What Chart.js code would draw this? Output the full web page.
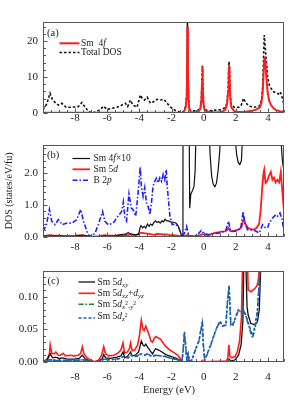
<!DOCTYPE html>
<html><head><meta charset="utf-8">
<script src="https://cdn.jsdelivr.net/npm/chart.js@4/dist/chart.umd.min.js"></script>
<style>
html,body{margin:0;padding:0;background:#fff;}
#wrap{position:relative;width:306px;height:404px;overflow:hidden;background:#fff;}
canvas{position:absolute;left:0;top:0;}
</style></head><body>
<div id="wrap">
<canvas id="ca" width="306" height="404"></canvas>
<canvas id="cb" width="306" height="404"></canvas>
<canvas id="cc" width="306" height="404"></canvas>
</div>
<script>
// ---------- data ----------
const xTicks = [-8,-6,-4,-2,0,2,4];
const yTicksA = [0,10,20];
const yTicksB = [0,1,2];
const yTicksC = [0,0.05,0.10];

// (a) Sm 4f
const sm4fA = [[-10,0.05],[-2,0.05],[-1.5,0.03],[-1.3,0.05],[-1.2,0.6],[-1.12,1.5],[-1.07,4],[-1.04,10],[-1.01,24],[-0.98,12],[-0.94,4],[-0.9,1.2],[-0.8,0.3],[-0.5,0.2],[-0.3,0.5],[-0.2,1.3],[-0.14,3.5],[-0.1,9],[-0.08,12.9],[-0.05,8],[-0.01,2.5],[0.05,0.9],[0.2,0.4],[0.7,0.15],[1.1,0.3],[1.35,0.9],[1.46,2.5],[1.52,6],[1.56,11],[1.58,12.9],[1.61,10],[1.66,4],[1.73,1.5],[1.9,0.5],[2.2,0.25],[2.6,0.35],[3.0,0.6],[3.3,1.0],[3.5,1.6],[3.6,3],[3.67,5.5],[3.73,11],[3.78,15],[3.81,15.7],[3.85,14],[3.9,10],[3.98,5.9],[4.07,3.5],[4.19,2.2],[4.35,1.3],[4.5,0.8],[4.75,0.5],[5.0,0.35]];
// (a) Total DOS
const totalDOS = [[-10,0.9],[-9.77,2.5],[-9.56,5.5],[-9.4,3.6],[-9.19,2.7],[-9.04,2.2],[-8.83,2.7],[-8.56,1.6],[-8.31,1.6],[-8.0,1.7],[-7.79,1.8],[-7.58,2.9],[-7.375,1.6],[-7.17,0.4],[-6.9,0.05],[-6.65,0.4],[-6.44,1.0],[-6.23,1.9],[-6.02,1.0],[-5.71,1.3],[-5.4,1.6],[-5.08,2.2],[-4.875,2.7],[-4.73,1.8],[-4.56,3.6],[-4.4,2.2],[-4.15,1.6],[-3.94,5.0],[-3.83,4.1],[-3.69,3.6],[-3.52,4.4],[-3.31,2.7],[-3.1,3.2],[-2.9,3.8],[-2.69,3.6],[-2.48,3.8],[-2.31,2.9],[-2.06,1.6],[-1.75,0.65],[-1.44,0.2],[-1.25,0.4],[-1.12,1.9],[-1.07,4.3],[-1.04,10.5],[-1.01,25.5],[-0.98,12.5],[-0.94,4.3],[-0.9,1.4],[-0.81,0.6],[-0.5,0.6],[-0.3,0.9],[-0.2,1.7],[-0.14,3.8],[-0.1,9.3],[-0.08,13.1],[-0.05,8.3],[-0.01,2.8],[0.05,1.2],[0.2,0.7],[0.44,0.6],[0.75,0.8],[1.06,0.9],[1.35,1.5],[1.46,3],[1.52,6.8],[1.56,12.5],[1.58,14.3],[1.61,11],[1.66,4.6],[1.73,2.3],[1.9,1.6],[2.2,1.6],[2.35,2.3],[2.48,4.1],[2.63,2.8],[2.83,1.9],[3.15,1.6],[3.46,1.9],[3.6,3.5],[3.67,7],[3.72,14],[3.77,21.7],[3.82,19],[3.88,15.6],[3.98,10.1],[4.08,7.8],[4.19,6.9],[4.35,5.9],[4.5,5.6],[4.65,5.3],[4.77,5.9],[4.9,4.1],[5.0,2.2]];

// (b) Sm 4f x10
const sm4fx10 = [[-10,0.01],[-9.5,0.02],[-9,0.02],[-8.5,0.01],[-8,0.02],[-7.5,0.04],[-7,0.0],[-6.5,0.01],[-6,0.02],[-5.5,0.03],[-5.2,0.06],[-4.9,0.08],[-4.7,0.13],[-4.5,0.08],[-4.3,0.06],[-4.05,0.08],[-3.95,0.3],[-3.9,0.35],[-3.8,0.28],[-3.7,0.33],[-3.6,0.27],[-3.5,0.4],[-3.4,0.33],[-3.3,0.4],[-3.2,0.36],[-3.1,0.45],[-3.0,0.5],[-2.9,0.45],[-2.8,0.48],[-2.7,0.43],[-2.6,0.5],[-2.5,0.47],[-2.4,0.55],[-2.3,0.5],[-2.2,0.5],[-2.0,0.46],[-1.8,0.45],[-1.7,0.42],[-1.6,0.35],[-1.5,0.22],[-1.4,0.08],[-1.33,0.02],[-1.29,0.1],[-1.27,20],[-1.0,240],[-0.92,5],[-0.87,0.9],[-0.8,1.35],[-0.7,1.45],[-0.6,1.6],[-0.53,2.1],[-0.47,3.5],[-0.42,6],[-0.08,129],[0.3,4],[0.4,2.6],[0.5,1.9],[0.6,1.65],[0.7,1.58],[0.8,1.7],[0.9,2.1],[1.0,2.7],[1.08,3.5],[1.58,129],[1.9,4],[1.98,3],[2.05,2.6],[2.15,2.35],[2.25,2.28],[2.35,2.4],[2.42,3.2],[2.5,5],[3.8,156],[4.75,4],[4.82,3],[4.9,2.4],[5.0,2.05]];
// (b) Sm 5d
const sm5dB = [[-10,0.02],[-9.6,0.05],[-9.4,0.03],[-9,0.03],[-8.5,0.02],[-8,0.03],[-7.6,0.05],[-7.3,0.02],[-7,0.0],[-6.5,0.01],[-6.2,0.05],[-6,0.03],[-5.5,0.03],[-5,0.06],[-4.7,0.05],[-4.5,0.07],[-4.2,0.05],[-4.05,0.08],[-3.9,0.13],[-3.7,0.11],[-3.5,0.1],[-3.3,0.08],[-3.1,0.06],[-2.9,0.09],[-2.7,0.08],[-2.5,0.07],[-2.3,0.07],[-2.1,0.05],[-1.9,0.05],[-1.7,0.04],[-1.5,0.02],[-1.35,0.0],[-1.2,0.01],[-1.0,0.06],[-0.9,0.03],[-0.7,0.01],[-0.5,0.02],[-0.3,0.03],[-0.1,0.08],[0.1,0.06],[0.3,0.05],[0.5,0.09],[0.7,0.12],[0.9,0.14],[1.1,0.16],[1.3,0.17],[1.45,0.2],[1.55,0.28],[1.65,0.18],[1.8,0.17],[2.0,0.2],[2.2,0.23],[2.35,0.3],[2.45,0.5],[2.5,0.58],[2.6,0.4],[2.75,0.28],[2.9,0.25],[3.1,0.22],[3.3,0.28],[3.45,0.4],[3.55,0.85],[3.65,1.6],[3.72,2.0],[3.77,2.12],[3.85,1.7],[3.95,1.76],[4.05,1.9],[4.18,2.05],[4.28,1.8],[4.38,1.87],[4.48,1.72],[4.58,1.8],[4.7,1.72],[4.8,2.05],[4.9,1.4],[5.0,0.8]];
// (b) B 2p
const b2p = [[-10,0.17],[-9.8,0.35],[-9.6,0.86],[-9.46,0.49],[-9.25,0.38],[-9.04,0.54],[-8.8,0.38],[-8.5,0.43],[-8.2,0.43],[-7.9,0.54],[-7.65,0.86],[-7.48,0.49],[-7.27,0.17],[-7.1,0.0],[-6.77,0.1],[-6.56,0.38],[-6.29,0.8],[-6.15,0.49],[-5.94,0.38],[-5.63,0.43],[-5.42,0.59],[-5.1,0.8],[-5.0,1.1],[-4.9,0.6],[-4.8,0.5],[-4.65,1.35],[-4.5,0.9],[-4.4,0.86],[-4.23,0.65],[-4.08,1.39],[-3.95,2.2],[-3.88,1.6],[-3.77,1.28],[-3.67,1.55],[-3.56,1.07],[-3.46,0.96],[-3.35,0.7],[-3.25,1.07],[-3.15,1.6],[-3.04,1.76],[-2.94,1.85],[-2.84,1.7],[-2.73,1.86],[-2.62,1.75],[-2.52,1.97],[-2.42,1.8],[-2.33,2.12],[-2.27,1.6],[-2.1,0.65],[-1.96,0.38],[-1.75,0.4],[-1.54,0.28],[-1.44,0.12],[-1.33,0.0],[-1.19,0.12],[-1.06,0.33],[-0.92,0.0],[-0.71,0.02],[-0.4,0.05],[-0.15,0.2],[0.02,0.1],[0.33,0.06],[0.65,0.1],[1.06,0.12],[1.38,0.2],[1.54,0.49],[1.69,0.17],[2.0,0.17],[2.31,0.28],[2.46,0.8],[2.56,0.43],[2.73,0.22],[3.15,0.2],[3.46,0.12],[3.67,0.38],[3.81,0.3],[3.98,0.28],[4.08,0.43],[4.29,0.59],[4.5,0.7],[4.6,0.65],[4.75,0.75],[4.88,0.55],[5.0,0.17]];

// (c) Sm 5d orbitals
const dxy = [[-10,0],[-9.75,0.002],[-9.55,0.012],[-9.4,0.006],[-9.2,0.007],[-9.0,0.005],[-8.75,0.006],[-8.5,0.004],[-8.0,0.004],[-7.75,0.005],[-7.55,0.01],[-7.4,0.005],[-7.1,0.001],[-6.8,0],[-6.5,0.001],[-6.3,0.005],[-6.22,0.011],[-6.1,0.006],[-5.8,0.005],[-5.4,0.007],[-5.15,0.009],[-5.02,0.015],[-4.92,0.006],[-4.75,0.008],[-4.55,0.015],[-4.45,0.009],[-4.25,0.01],[-4.05,0.015],[-3.88,0.032],[-3.78,0.026],[-3.7,0.024],[-3.6,0.027],[-3.48,0.022],[-3.3,0.016],[-3.18,0.012],[-3.05,0.018],[-2.98,0.02],[-2.8,0.018],[-2.6,0.015],[-2.35,0.011],[-2.0,0.008],[-1.7,0.005],[-1.45,0.002],[-1.3,0],[1.5,0],[1.57,0.004],[1.7,0.001],[1.96,0.003],[2.17,0.01],[2.33,0.026],[2.44,0.062],[2.5,0.15],[2.58,0.2],[2.64,0.14],[2.7,0.085],[2.77,0.072],[2.94,0.059],[3.19,0.057],[3.35,0.062],[3.46,0.08],[3.56,0.15],[3.62,0.3]];
const dxzyz = [[-10,0],[-9.75,0.004],[-9.6,0.012],[-9.55,0.026],[-9.45,0.013],[-9.3,0.012],[-9.2,0.015],[-9.05,0.01],[-8.9,0.01],[-8.75,0.013],[-8.6,0.009],[-8.3,0.01],[-8.1,0.009],[-7.8,0.01],[-7.65,0.013],[-7.55,0.023],[-7.45,0.012],[-7.25,0.006],[-7.0,0.002],[-6.8,0],[-6.55,0.002],[-6.35,0.01],[-6.22,0.023],[-6.1,0.012],[-5.9,0.009],[-5.6,0.01],[-5.35,0.013],[-5.15,0.018],[-5.02,0.029],[-4.92,0.013],[-4.75,0.015],[-4.62,0.02],[-4.55,0.029],[-4.45,0.017],[-4.3,0.018],[-4.12,0.025],[-4.0,0.04],[-3.88,0.064],[-3.78,0.05],[-3.7,0.048],[-3.6,0.055],[-3.48,0.047],[-3.38,0.04],[-3.28,0.032],[-3.18,0.03],[-3.08,0.036],[-2.98,0.039],[-2.85,0.037],[-2.69,0.035],[-2.55,0.03],[-2.38,0.024],[-2.1,0.018],[-1.85,0.014],[-1.6,0.01],[-1.45,0.005],[-1.35,0],[-1.05,0],[-0.95,0.004],[-0.85,0],[-0.15,0],[-0.08,0.002],[0.0,0],[1.4,0.001],[1.5,0.005],[1.57,0.026],[1.63,0.008],[1.75,0.006],[1.96,0.008],[2.1,0.016],[2.23,0.031],[2.35,0.067],[2.42,0.15],[2.6,0.3],[2.72,0.16],[2.77,0.111],[2.94,0.108],[3.15,0.112],[3.31,0.117],[3.4,0.125],[3.48,0.15],[3.6,0.4]];
const dx2y2 = [[-10,0],[-9.6,0.003],[-9.2,0.002],[-8.5,0.002],[-8,0.002],[-7.5,0.003],[-7,0],[-6.5,0],[-6.2,0.004],[-5.8,0.003],[-5.2,0.005],[-5.0,0.008],[-4.7,0.006],[-4.5,0.01],[-4.2,0.008],[-3.9,0.012],[-3.7,0.01],[-3.5,0.012],[-3.2,0.008],[-3.0,0.01],[-2.7,0.009],[-2.4,0.008],[-2.0,0.005],[-1.6,0.003],[-1.35,0],[-1.27,0.02],[-1.2,0.043],[-1.14,0.03],[-1.05,0.004],[-0.97,0.012],[-0.9,0.004],[-0.8,0],[-0.71,0.004],[-0.5,0.019],[-0.29,0.032],[-0.19,0.046],[-0.08,0.06],[-0.03,0.03],[0.06,0.002],[0.23,0.012],[0.44,0.025],[0.65,0.041],[0.85,0.054],[1.02,0.061],[1.17,0.055],[1.38,0.056],[1.48,0.09],[1.58,0.116],[1.69,0.056],[1.79,0.055],[2.0,0.068],[2.15,0.079],[2.31,0.077],[2.48,0.079],[2.63,0.07],[2.77,0.058],[2.94,0.044],[3.04,0.036],[3.19,0.05],[3.35,0.078],[3.5,0.14],[3.6,0.2]];
const dz2 = [[-10,0],[-9.6,0.003],[-9.2,0.002],[-8.5,0.002],[-8,0.002],[-7.5,0.003],[-7,0],[-6.5,0],[-6.2,0.004],[-5.8,0.003],[-5.2,0.005],[-5.0,0.008],[-4.7,0.006],[-4.5,0.01],[-4.2,0.008],[-3.9,0.012],[-3.7,0.01],[-3.5,0.012],[-3.2,0.008],[-3.0,0.01],[-2.7,0.009],[-2.4,0.008],[-2.0,0.005],[-1.6,0.003],[-1.35,0],[-1.27,0.02],[-1.2,0.046],[-1.14,0.03],[-1.05,0.004],[-0.97,0.012],[-0.9,0.004],[-0.8,0],[-0.71,0.004],[-0.5,0.02],[-0.29,0.033],[-0.19,0.047],[-0.08,0.062],[-0.03,0.03],[0.06,0.002],[0.23,0.013],[0.44,0.026],[0.65,0.042],[0.85,0.055],[1.02,0.063],[1.17,0.055],[1.38,0.057],[1.48,0.092],[1.58,0.118],[1.69,0.057],[1.79,0.056],[2.0,0.07],[2.15,0.08],[2.31,0.078],[2.48,0.08],[2.63,0.071],[2.77,0.061],[2.94,0.048],[3.04,0.04],[3.19,0.055],[3.35,0.08],[3.5,0.14],[3.6,0.2]];

// ---------- helpers ----------
const FONT = '"Liberation Serif", "Times New Roman", serif';
const TXT = '#222';
const RED = '#ff1c1c';
const pts = a => a.map(([x,y]) => ({x, y}));

const frameTicks = {
  id: 'frameTicks',
  afterDatasetsDraw(chart, args, o) {
    const {ctx, chartArea: a} = chart;
    const xs = chart.scales.x, ys = chart.scales.y;
    ctx.save();
    ctx.strokeStyle = '#555'; ctx.lineWidth = 1;
    const L = Math.round(a.left) + 0.5, R = Math.round(a.right) - 0.5;
    const T = Math.round(a.top) + 0.5, B = Math.round(a.bottom) - 0.5;
    ctx.strokeRect(L, T, R - L, B - T);
    ctx.beginPath();
    for (let k = 0; k <= 30; k++) {
      const v = -10 + k * 0.5;
      const px = Math.round(xs.getPixelForValue(v)) + 0.5;
      const len = (k % 4 === 0) ? 4 : 2.5;
      ctx.moveTo(px, B); ctx.lineTo(px, B - len);
    }
    const n = Math.floor(ys.max / o.yMinor + 1e-6);
    for (let k = 0; k <= n; k++) {
      const v = k * o.yMinor;
      const py = Math.round(ys.getPixelForValue(v)) + 0.5;
      const len = (k % o.every === 0) ? 4 : 2.5;
      ctx.moveTo(L, py); ctx.lineTo(L + len, py);
    }
    ctx.stroke();
    ctx.restore();
  }
};
Chart.register(frameTicks);

function rich(ctx, x, y, segs, base) {
  ctx.textBaseline = 'middle'; ctx.textAlign = 'left'; ctx.fillStyle = TXT;
  for (const s of segs) {
    const size = s.size || base;
    ctx.font = (s.it ? 'italic ' : '') + size + 'px ' + FONT;
    ctx.fillText(s.t, x, y + (s.dy || 0));
    x += ctx.measureText(s.t).width;
  }
}
function legLine(ctx, x1, x2, y, color, w, dash) {
  ctx.save(); ctx.strokeStyle = color; ctx.lineWidth = w; ctx.setLineDash(dash || []);
  ctx.beginPath(); ctx.moveTo(x1, y); ctx.lineTo(x2, y); ctx.stroke(); ctx.restore();
}

function opts(p) {
  return {
    responsive: false, animation: false, devicePixelRatio: 1,
    layout: {padding: {left: 0, right: 22, top: p.top, bottom: 404 - p.bottom - p.xH}},
    plugins: {legend: {display: false}, tooltip: {enabled: false}, frameTicks: {yMinor: p.yMinor, every: p.every}},
    elements: {point: {radius: 0}, line: {tension: 0}},
    scales: {
      x: {
        type: 'linear', min: -10, max: 5,
        afterBuildTicks: s => { s.ticks = xTicks.map(v => ({value: v})); },
        afterFit: s => { s.height = p.xH; },
        grid: {display: false, drawTicks: false}, border: {display: false},
        ticks: {padding: p.xPad, font: {family: FONT, size: 11, lineHeight: 1}, color: TXT,
                maxRotation: 0, autoSkip: false, callback: v => String(v)}
      },
      y: {
        type: 'linear', min: 0, max: p.yMax,
        afterBuildTicks: s => { s.ticks = p.yTicks.map(v => ({value: v})); },
        afterFit: s => { s.width = 43; },
        grid: {display: false, drawTicks: false}, border: {display: false},
        ticks: {padding: 5, font: {family: FONT, size: 11}, color: TXT, callback: p.yFmt},
        title: p.yTitle ? {display: true, text: p.yTitle, color: TXT,
                           font: {family: FONT, size: 10}, padding: {top: 3, bottom: 0}} : {display: false}
      }
    }
  };
}

// ---------- panel (a) ----------
new Chart(document.getElementById('ca'), {
  type: 'line',
  data: {datasets: [
    {label: 'Sm 4f', data: pts(sm4fA), borderColor: RED, borderWidth: 2, order: 0},
    {label: 'Total DOS', data: pts(totalDOS), borderColor: '#111', borderWidth: 1.6, borderDash: [2.5, 2], order: 1}
  ]},
  options: opts({top: 22, bottom: 113, xH: 14, xPad: -0.5, yMax: 25.3, yTicks: yTicksA,
                 yFmt: v => String(v), yMinor: 2, every: 5}),
  plugins: [{id: 'legA', afterDraw(chart) {
    const ctx = chart.ctx;
    rich(ctx, 47, 33.3, [{t: '(a)'}], 10.5);
    legLine(ctx, 59.5, 79.5, 43.3, RED, 2);
    rich(ctx, 81, 43.3, [{t: 'Sm  4'}, {t: 'f', it: true}], 9.5);
    legLine(ctx, 59.5, 79.5, 52.5, '#111', 1.6, [2.5, 2]);
    rich(ctx, 81, 52.5, [{t: 'Total DOS'}], 9.5);
  }}]
});

// ---------- panel (b) ----------
new Chart(document.getElementById('cb'), {
  type: 'line',
  data: {datasets: [
    {label: 'Sm 4f x10', data: pts(sm4fx10), borderColor: '#111', borderWidth: 1.2, order: 1},
    {label: 'Sm 5d', data: pts(sm5dB), borderColor: RED, borderWidth: 1.8, order: 2},
    {label: 'B 2p', data: pts(b2p), borderColor: '#1f1fff', borderWidth: 1.6, borderDash: [5, 2, 1.5, 2], order: 0}
  ]},
  options: opts({top: 145, bottom: 236.7, xH: 14, xPad: 4.5, yMax: 2.9, yTicks: yTicksB,
                 yFmt: v => v.toFixed(1), yMinor: 0.2, every: 5, yTitle: 'DOS (states/eV/fu)'}),
  plugins: [{id: 'legB', afterDraw(chart) {
    const ctx = chart.ctx;
    rich(ctx, 47, 155, [{t: '(b)'}], 10.5);
    legLine(ctx, 72.5, 90, 158.5, '#111', 1.2);
    rich(ctx, 93.5, 158.5, [{t: 'Sm 4'}, {t: 'f', it: true}, {t: '×10'}], 9.5);
    legLine(ctx, 72.5, 90, 169.3, RED, 1.8);
    rich(ctx, 93.5, 169.3, [{t: 'Sm 5'}, {t: 'd', it: true}], 9.5);
    legLine(ctx, 72.5, 90, 180.3, '#1f1fff', 1.6, [5, 2, 1.5, 2]);
    rich(ctx, 93.5, 180.3, [{t: 'B 2'}, {t: 'p', it: true}], 9.5);
  }}]
});

// ---------- panel (c) ----------
new Chart(document.getElementById('cc'), {
  type: 'line',
  data: {datasets: [
    {label: 'Sm 5dxy', data: pts(dxy), borderColor: '#111', borderWidth: 1.3, order: 2},
    {label: 'Sm 5dxz+dyz', data: pts(dxzyz), borderColor: RED, borderWidth: 1.6, order: 3},
    {label: 'Sm 5dx2-y2', data: pts(dx2y2), borderColor: '#1e7b3a', borderWidth: 1.5, borderDash: [5, 2, 1.5, 2], order: 1},
    {label: 'Sm 5dz2', data: pts(dz2), borderColor: '#1f55e0', borderWidth: 1.6, borderDash: [3, 2], order: 0}
  ]},
  options: opts({top: 271, bottom: 361.7, xH: 40, xPad: 9.5, yMax: 0.14, yTicks: yTicksC,
                 yFmt: v => v.toFixed(2), yMinor: 0.01, every: 5}),
  plugins: [{id: 'legC', afterDraw(chart) {
    const ctx = chart.ctx;
    rich(ctx, 47.5, 281.5, [{t: '(c)'}], 10.5);
    legLine(ctx, 78.5, 95, 282, '#111', 1.3);
    rich(ctx, 97.5, 282, [{t: 'Sm 5'}, {t: 'd', it: true}, {t: 'xy', it: true, size: 7, dy: 3}], 9.5);
    legLine(ctx, 78.5, 95, 293.3, RED, 1.6);
    rich(ctx, 97.5, 293.3, [{t: 'Sm 5'}, {t: 'd', it: true}, {t: 'xz', it: true, size: 7, dy: 3},
                            {t: '+'}, {t: 'd', it: true}, {t: 'yz', it: true, size: 7, dy: 3}], 9.5);
    legLine(ctx, 78.5, 95, 304.3, '#1e7b3a', 1.5, [5, 2, 1.5, 2]);
    rich(ctx, 97.5, 304.3, [{t: 'Sm 5'}, {t: 'd', it: true}, {t: 'x', it: true, size: 7, dy: 3},
                            {t: '2', size: 5.5, dy: -1}, {t: '-y', it: true, size: 7, dy: 3},
                            {t: '2', size: 5.5, dy: -1}], 9.5);
    legLine(ctx, 78.5, 95, 318, '#1f55e0', 1.6, [3, 2]);
    rich(ctx, 97.5, 316.5, [{t: 'Sm 5'}, {t: 'd', it: true}, {t: 'z', it: true, size: 7, dy: 3},
                            {t: '2', size: 5.5, dy: -1}], 9.5);
    ctx.save();
    ctx.font = '10.5px ' + FONT; ctx.fillStyle = TXT; ctx.textAlign = 'center'; ctx.textBaseline = 'middle';
    ctx.fillText('Energy (eV)', 169, 390.7);
    ctx.restore();
  }}]
});
</script>
</body></html>
